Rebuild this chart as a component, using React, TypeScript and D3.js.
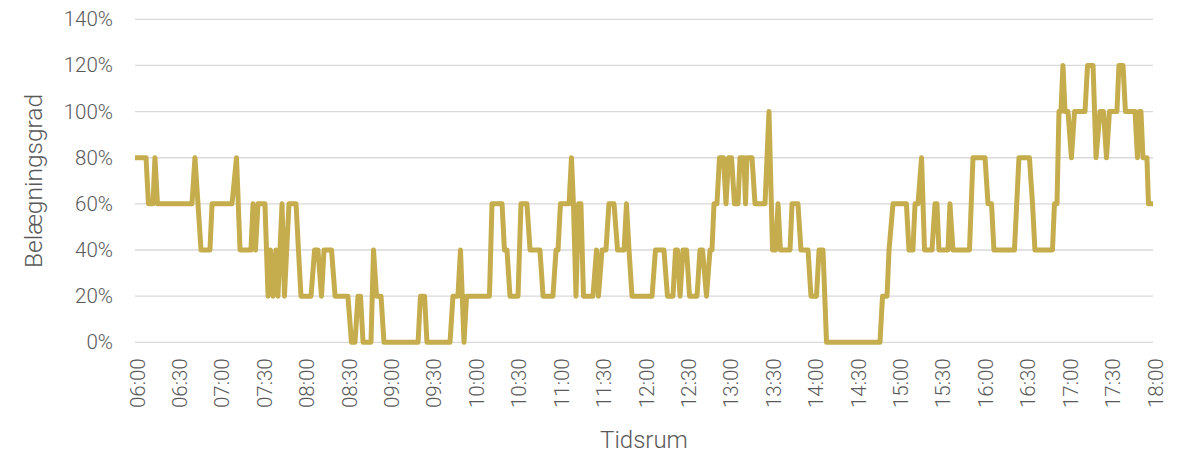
import * as React from 'react';
import * as d3 from 'd3';

// minutes after 06:00 where the reading changes, and the occupancy (%) at that moment
const minuteOffsets = [
  0, 7.8, 9.5, 12.7, 14.1, 15.9, 40.3, 42.4, 46.7, 53.0, 54.5, 68.6, 71.8, 74.3, 82.0, 83.5, 85.2, 87.0, 91.9,
  94.1, 95.8, 97.6, 99.7, 101.1, 104.0, 105.7, 108.9, 113.9, 115.6, 117.4, 124.5, 127.0, 129.4, 131.9, 133.7,
  139.0, 141.5, 150.6, 153.1, 155.6, 157.7, 159.5, 161.3, 166.9, 168.7, 170.8, 174.0, 176.1, 200.2, 201.9,
  204.8, 206.5, 222.8, 224.9, 228.4, 230.2, 232.7, 234.5, 250.7, 252.5, 259.6, 261.3, 263.1, 265.2, 270.9,
  273.0, 277.2, 279.4, 286.4, 288.6, 295.6, 297.8, 299.2, 300.9, 307.0, 308.7, 310.1, 311.9, 313.7, 315.4,
  317.2, 323.9, 326.4, 327.8, 330.3, 333.1, 335.2, 338.8, 341.3, 345.9, 347.6, 349.4, 351.5, 365.7, 368.1,
  374.1, 376.6, 380.5, 382.3, 383.7, 385.5, 387.6, 390.1, 392.2, 397.5, 399.6, 401.4, 404.2, 406.7, 408.1,
  409.5, 411.6, 413.4, 416.2, 418.0, 419.8, 421.9, 424.0, 426.5, 427.9, 430.7, 431.8, 432.8, 436.4, 438.5,
  445.6, 448.4, 450.9, 453.0, 454.8, 456.5, 463.3, 464.7, 468.9, 471.0, 476.0, 478.1, 482.0, 483.8, 486.6,
  489.1, 526.9, 528.7, 531.9, 533.3, 536.1, 545.6, 547.4, 550.2, 551.7, 553.8, 556.3, 558.4, 563.7, 565.8,
  567.2, 568.6, 575.0, 576.4, 578.5, 590.2, 592.7, 601.2, 603.3, 605.8, 607.5, 622.0, 625.2, 632.6, 634.8,
  636.5, 648.9, 650.3, 652.1, 653.5, 654.9, 656.3, 657.8, 659.9, 662.3, 664.5, 671.9, 673.7, 677.6, 679.7,
  682.5, 685.0, 687.1, 689.2, 694.5, 695.9, 698.8, 700.5, 707.3, 709.0, 710.4, 711.5, 712.9, 715.7, 716.8, 720,
];

const occupancy = [
  80, 80, 60, 60, 80, 60, 60, 80, 40, 40, 60, 60, 80, 40, 40, 60, 40, 60, 60,
  20, 40, 20, 40, 20, 60, 20, 60, 60, 40, 20, 20, 40, 40, 20, 40,
  40, 20, 20, 0, 0, 20, 20, 0, 0, 40, 20, 20, 0, 0, 20,
  20, 0, 0, 20, 20, 40, 0, 20, 20, 60, 60, 40, 40, 20, 20,
  60, 60, 40, 40, 20, 20, 40, 40, 60, 60, 80, 60, 20, 60, 60,
  20, 20, 40, 20, 40, 40, 60, 60, 40, 40, 60, 40, 20, 20, 40,
  40, 20, 20, 40, 40, 20, 40, 40, 20, 20, 40, 40, 20, 40, 40,
  60, 60, 80, 80, 60, 80, 80, 60, 60, 80, 80, 60, 80, 80, 60,
  60, 100, 40, 40, 60, 40, 40, 60, 60, 40, 40, 20, 20, 40, 40,
  0, 0, 20, 20, 40, 60, 60, 40, 40, 60, 60, 80, 40, 40, 60,
  60, 40, 40, 60, 40, 40, 80, 80, 60, 60, 40, 40, 80, 80, 60,
  40, 40, 60, 60, 100, 100, 120, 100, 100, 80, 100, 100, 120, 120, 80,
  100, 100, 80, 100, 100, 120, 120, 100, 100, 80, 100, 100, 80, 80, 60, 60,
];

const timeLabels = [
  '06:00', '06:30', '07:00', '07:30', '08:00', '08:30', '09:00', '09:30', '10:00', '10:30', '11:00', '11:30',
  '12:00', '12:30', '13:00', '13:30', '14:00', '14:30', '15:00', '15:30', '16:00', '16:30', '17:00', '17:30', '18:00',
];

const percentTicks = [0, 20, 40, 60, 80, 100, 120, 140];

const WIDTH = 1181;
const HEIGHT = 455;
const FONT = "Roboto, 'Open Sans', sans-serif";
const TEXT_COLOR = '#595959';

const App: React.FC = () => {
  const margin = { top: 19.3, right: 28, bottom: 112.7, left: 135 };

  const x = d3.scaleLinear()
    .domain([0, 720])
    .range([margin.left, WIDTH - margin.right]);

  const y = d3.scaleLinear()
    .domain([0, 140])
    .range([HEIGHT - margin.bottom, margin.top]);

  const points = minuteOffsets.map((m, i) => [m, occupancy[i]] as [number, number]);
  const line = d3.line<[number, number]>()
    .x(d => x(d[0]))
    .y(d => y(d[1]));

  const yBottom = y(0);

  return (
    <svg
      width={WIDTH}
      height={HEIGHT}
      style={{ position: 'absolute', left: 0, top: 0, background: 'white' }}
      fontFamily={FONT}
    >
      {percentTicks.map(t => (
        <g key={t}>
          <line x1={x(0)} x2={x(720)} y1={y(t)} y2={y(t)} stroke="#d9d9d9" strokeWidth={1.3} />
          <text
            x={113}
            y={y(t)}
            textAnchor="end"
            dominantBaseline="central"
            fontSize={20.5}
            fontWeight={300}
            fill={TEXT_COLOR}
          >
            {t}%
          </text>
        </g>
      ))}

      {timeLabels.map((label, i) => {
        const px = x(i * 30) + 2.5;
        return (
          <text
            key={label}
            transform={`translate(${px},${yBottom + 16}) rotate(-90)`}
            textAnchor="end"
            dominantBaseline="central"
            fontSize={20.5}
            fontWeight={300}
            fill={TEXT_COLOR}
          >
            {label}
          </text>
        );
      })}

      <path
        d={line(points) || ''}
        fill="none"
        stroke="#c5ad4e"
        strokeWidth={5}
        strokeLinejoin="round"
      />

      <text
        x={(x(0) + x(720)) / 2}
        y={440}
        textAnchor="middle"
        dominantBaseline="central"
        fontSize={24}
        fontWeight={300}
        fill={TEXT_COLOR}
      >
        Tidsrum
      </text>

      <text
        transform={`translate(33,181) rotate(-90)`}
        textAnchor="middle"
        dominantBaseline="central"
        fontSize={24.5}
        fontWeight={300}
        fill={TEXT_COLOR}
      >
        Belægningsgrad
      </text>
    </svg>
  );
};

export default App;
